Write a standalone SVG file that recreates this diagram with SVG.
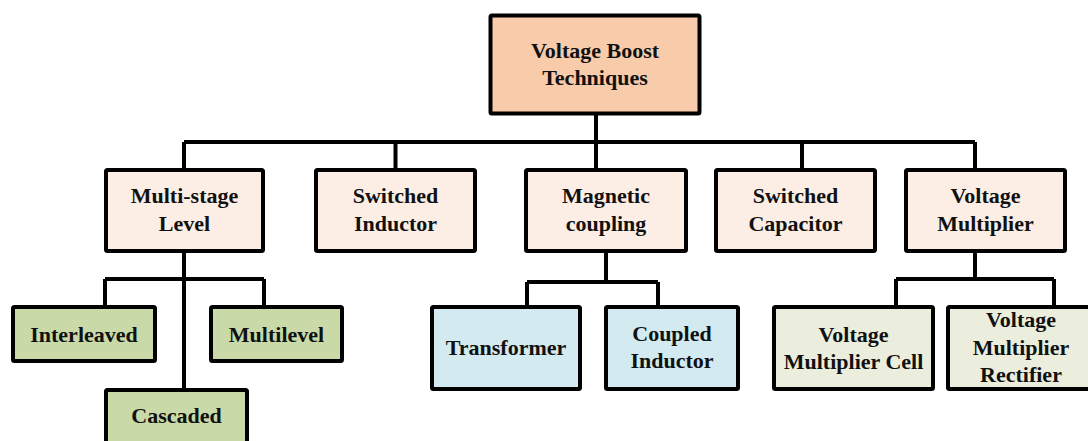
<svg xmlns="http://www.w3.org/2000/svg" width="1088" height="441" viewBox="0 0 1088 441">
<style>
rect{stroke:#000;stroke-width:4;stroke-linejoin:round}
.top{fill:#F8CBAA}
.l2{fill:#FCEEE4}
.gr{fill:#C9DAA8}
.bl{fill:#D2EAF0}
.lg{fill:#EBEEDD}
text{font-family:"Liberation Serif","Times New Roman",serif;font-weight:bold;font-size:22px;fill:#111;text-anchor:middle}
.c path{fill:none;stroke:#000;stroke-width:4}
</style>
<rect x="0" y="0" width="1088" height="441" fill="#fff" style="stroke:none"/>
<g class="c" id="connectors">
<path d="M596 114V142M184 142H975M184 142V170M395.5 142V170M596 142V170M802 142V170M975 142V170"/>
<path d="M184 251V390M105 279H264M105 279V306M264 279V306"/>
<path d="M606 251V282M527 282H658M527 282V306M658 282V306"/>
<path d="M975 251V279M896 279H1054M896 279V306M1054 279V306"/>
</g>
<g id="root"><rect class="top" x="490.5" y="15.5" width="209" height="98" rx="1.5"/><text x="595" y="58">Voltage Boost</text><text x="595" y="85">Techniques</text></g>
<g id="multistage"><rect class="l2" x="106" y="170" width="157" height="81" rx="1.5"/><text x="184.5" y="203">Multi-stage</text><text x="184.5" y="231">Level</text></g>
<g id="swind"><rect class="l2" x="316" y="170" width="159" height="81" rx="1.5"/><text x="395.5" y="203">Switched</text><text x="395.5" y="231">Inductor</text></g>
<g id="magnetic"><rect class="l2" x="526" y="170" width="160" height="81" rx="1.5"/><text x="606" y="203">Magnetic</text><text x="606" y="231">coupling</text></g>
<g id="swcap"><rect class="l2" x="716" y="170" width="159" height="81" rx="1.5"/><text x="795.5" y="203">Switched</text><text x="795.5" y="231">Capacitor</text></g>
<g id="vmult"><rect class="l2" x="906" y="170" width="159" height="81" rx="1.5"/><text x="985.5" y="203">Voltage</text><text x="985.5" y="231">Multiplier</text></g>
<g id="interleaved"><rect class="gr" x="13" y="307" width="142" height="54" rx="1.5"/><text x="84" y="342">Interleaved</text></g>
<g id="multilevel"><rect class="gr" x="211" y="307" width="131" height="54" rx="1.5"/><text x="276.5" y="342">Multilevel</text></g>
<g id="cascaded"><rect class="gr" x="106" y="390" width="141" height="60" rx="1.5"/><text x="176.5" y="423">Cascaded</text></g>
<g id="transformer"><rect class="bl" x="432" y="307" width="148" height="82" rx="1.5"/><text x="506" y="355">Transformer</text></g>
<g id="coupled"><rect class="bl" x="606" y="307" width="132" height="82" rx="1.5"/><text x="672" y="341">Coupled</text><text x="672" y="368">Inductor</text></g>
<g id="vmcell"><rect class="lg" x="774" y="307" width="159" height="82" rx="1.5"/><text x="853.5" y="342">Voltage</text><text x="853.5" y="369">Multiplier Cell</text></g>
<g id="vmrect"><rect class="lg" x="948" y="307" width="146" height="82" rx="1.5"/><text x="1021" y="327">Voltage</text><text x="1021" y="355">Multiplier</text><text x="1021" y="382">Rectifier</text></g>
</svg>
